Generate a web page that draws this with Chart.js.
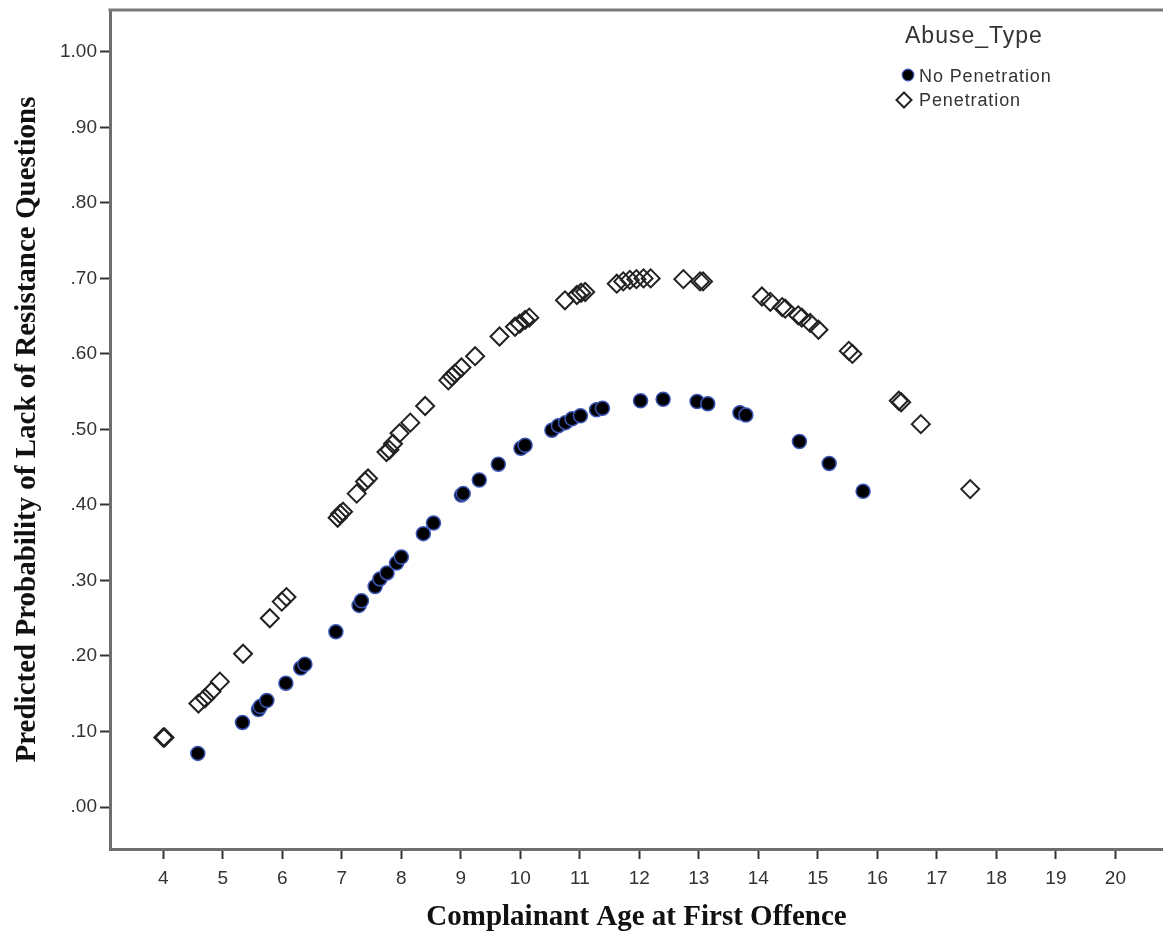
<!DOCTYPE html>
<html>
<head>
<meta charset="utf-8">
<script src="https://cdn.jsdelivr.net/npm/chart.js@4.4.0/dist/chart.umd.min.js"></script>
<style>
  body { margin: 0; background: #fff; }
  #wrap { position: relative; width: 1163px; height: 938px; }
  #legend { position: absolute; left: 0; top: 0; font-family: "Liberation Sans", Arial, sans-serif; color: #333; }
  #legend .ttl { position: absolute; left: 905px; top: 22px; font-size: 23px; letter-spacing: 1px; white-space: nowrap; }
  #legend .item { position: absolute; left: 919px; font-size: 18px; letter-spacing: 0.9px; white-space: nowrap; line-height: 20px; }
  #legend svg { position: absolute; overflow: visible; }
</style>
</head>
<body>
<div id="wrap">
  <canvas id="myChart" width="1163" height="938"></canvas>
  <div id="legend">
    <div class="ttl">Abuse_Type</div>
    <svg style="left:901px;top:68px" width="14" height="14"><circle cx="7" cy="7" r="5.8" fill="#000" stroke="#3b55b5" stroke-width="1.2"/></svg>
    <div class="item" style="top:66px">No Penetration</div>
    <svg style="left:895px;top:91px" width="18" height="18"><path d="M9 1.5 L16.5 9 L9 16.5 L1.5 9 Z" fill="#fff" stroke="#222" stroke-width="2"/></svg>
    <div class="item" style="top:90px">Penetration</div>
  </div>
</div>
<script>
// No Penetration (filled circles)
const ageNoPen = [4.58, 5.33, 5.60, 5.63, 5.74, 6.06, 6.31, 6.38, 6.90, 7.29, 7.33, 7.56, 7.64, 7.76, 7.92, 8.00,
  8.37, 8.54, 9.01, 9.04, 9.31, 9.63, 10.01, 10.08, 10.53, 10.64, 10.76, 10.87, 11.01, 11.28, 11.38,
  12.02, 12.40, 12.97, 13.15, 13.69, 13.79, 14.69, 15.19, 15.76];
const probNoPen = [.071, .112, .129, .133, .141, .164, .184, .189, .232, .267, .273, .292, .302, .310, .323, .331,
  .362, .376, .413, .415, .433, .454, .475, .479, .499, .505, .509, .514, .518, .526, .528,
  .538, .540, .537, .534, .522, .519, .484, .455, .418];

// Penetration (open diamonds)
const agePen = [4.00, 4.02, 4.59, 4.70, 4.81, 4.95, 5.34, 5.79, 5.99, 6.07, 6.93, 6.97, 7.02, 7.25, 7.39, 7.44,
  7.75, 7.80, 7.86, 7.97, 8.15, 8.40, 8.79, 8.85, 8.90, 9.01, 9.24, 9.65, 9.91, 9.99, 10.08, 10.15,
  10.75, 10.95, 11.02, 11.09, 11.62, 11.73, 11.84, 11.95, 12.07, 12.19, 12.74, 13.02, 13.07,
  14.06, 14.20, 14.40, 14.45, 14.67, 14.73, 14.87, 15.01, 15.52, 15.58, 16.36, 16.40, 16.73, 17.56];
const probPen = [.092, .092, .137, .144, .153, .166, .203, .250, .272, .278, .383, .388, .391, .415, .431, .435,
  .470, .473, .481, .495, .509, .531, .565, .570, .574, .582, .597, .623, .636, .640, .645, .648,
  .671, .678, .681, .682, .693, .696, .698, .699, .700, .700, .699, .696, .696,
  .676, .669, .662, .660, .651, .648, .641, .632, .604, .600, .538, .536, .507, .421];

const xTickValues = [4, 5, 6, 7, 8, 9, 10, 11, 12, 13, 14, 15, 16, 17, 18, 19, 20];
const yTickValues = [0, 0.1, 0.2, 0.3, 0.4, 0.5, 0.6, 0.7, 0.8, 0.9, 1.0];
const yTickLabels = [".00", ".10", ".20", ".30", ".40", ".50", ".60", ".70", ".80", ".90", "1.00"];

const toPoints = (xs, ys) => xs.map((x, i) => ({ x: x, y: ys[i] }));

// top frame line (the plot box has no right edge in the picture)
const topBorder = {
  id: "topBorder",
  afterDraw(chart) {
    const { ctx, chartArea } = chart;
    ctx.save();
    ctx.strokeStyle = "#7a7a7a";
    ctx.lineWidth = 3;
    ctx.beginPath();
    ctx.moveTo(chartArea.left - 1.5, chartArea.top);
    ctx.lineTo(chartArea.right, chartArea.top);
    ctx.stroke();
    ctx.restore();
  },
};

const tickFont = { family: "'Liberation Sans', Arial, sans-serif", size: 19 };
const titleFont = { family: "'Liberation Serif', 'Times New Roman', serif", size: 29, weight: "bold" };

const ctx = document.getElementById("myChart");
new Chart(ctx, {
  type: "scatter",
  data: {
    datasets: [
      {
        label: "No Penetration",
        data: toPoints(ageNoPen, probNoPen),
        pointStyle: "circle",
        pointRadius: 7,
        pointHoverRadius: 7,
        backgroundColor: "#000",
        borderColor: "#3b55b5",
        borderWidth: 1.5,
      },
      {
        label: "Penetration",
        data: toPoints(agePen, probPen),
        pointStyle: "rectRot",
        pointRadius: 9,
        pointHoverRadius: 9,
        backgroundColor: "rgba(255,255,255,0)",
        borderColor: "#222",
        borderWidth: 2,
      },
    ],
  },
  options: {
    responsive: false,
    animation: false,
    layout: { autoPadding: false, padding: { top: 10, right: 0, left: 0, bottom: 0 } },
    plugins: {
      legend: { display: false },
      tooltip: { enabled: false },
    },
    scales: {
      x: {
        type: "linear",
        min: 3.104,
        max: 20.8,
        afterBuildTicks: (s) => { s.ticks = xTickValues.map((v) => ({ value: v })); },
        afterFit: (s) => { s.height = 89; s.paddingLeft = 0; s.paddingRight = 0; },
        ticks: { color: "#333", font: tickFont, padding: 8, maxRotation: 0, autoSkip: false, callback: (v) => String(v) },
        grid: { drawOnChartArea: false, drawTicks: true, tickLength: 10, tickWidth: 2, tickColor: "#333" },
        border: { display: true, color: "#6e6e6e", width: 3 },
        title: { display: true, text: "Complainant Age at First Offence", color: "#111", font: titleFont, padding: { top: 0, bottom: 3 } },
      },
      y: {
        type: "linear",
        min: -0.0556,
        max: 1.0554,
        afterBuildTicks: (s) => { s.ticks = yTickValues.map((v) => ({ value: v })); },
        afterFit: (s) => { s.width = 110; s.paddingTop = 0; s.paddingBottom = 0; },
        ticks: { color: "#333", font: tickFont, padding: 3, autoSkip: false, callback: (v, i) => yTickLabels[i] },
        grid: { drawOnChartArea: false, drawTicks: true, tickLength: 10, tickWidth: 2, tickColor: "#333" },
        border: { display: true, color: "#6e6e6e", width: 3 },
        title: { display: true, text: "Predicted Probability of Lack of Resistance Questions", color: "#111", font: titleFont, padding: { top: 10, bottom: 0 } },
      },
    },
  },
  plugins: [topBorder],
});
</script>
</body>
</html>
